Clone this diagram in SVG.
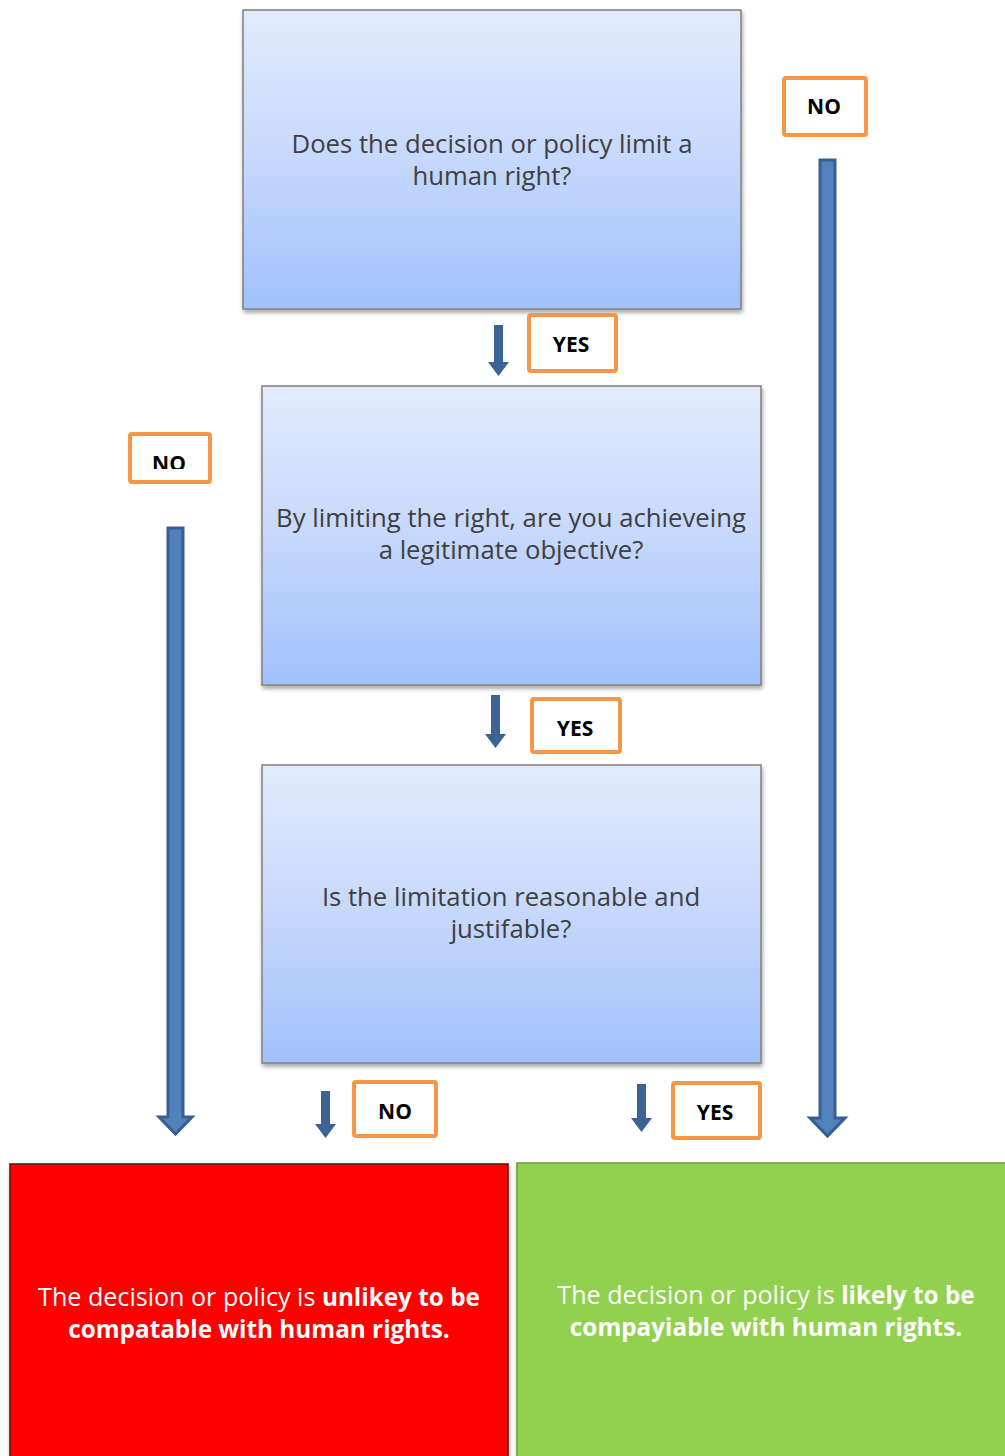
<svg xmlns="http://www.w3.org/2000/svg" width="1005" height="1456" viewBox="0 0 1005 1456">
<defs>
<linearGradient id="blue" x1="0" y1="0" x2="0" y2="1">
<stop offset="0" stop-color="#e2ebfd"/>
<stop offset="0.5" stop-color="#c6d8fc"/>
<stop offset="1" stop-color="#a1c1fb"/>
</linearGradient>
<filter id="sh" x="-5%" y="-5%" width="110%" height="110%">
<feDropShadow dx="1" dy="3" stdDeviation="2" flood-color="#000" flood-opacity="0.35"/>
</filter>
<clipPath id="clipNo"><rect x="129" y="433" width="82" height="36"/></clipPath>
</defs>
<style>
.q{fill:url(#blue);stroke:#808080;stroke-width:1.5;filter:url(#sh)}
.qt{font-family:"Open Sans","Liberation Sans",sans-serif;font-size:25.7px;fill:#404040;text-anchor:middle}
.lab{fill:#fff;stroke:#f79646;stroke-width:4}
.lt{font-family:"Open Sans","Liberation Sans",sans-serif;font-size:21px;font-weight:bold;fill:#000;text-anchor:middle}
.rt{font-family:"Open Sans","Liberation Sans",sans-serif;font-size:25.1px;fill:#fff;text-anchor:middle}
.rb{font-size:24.3px;font-weight:bold}
.sa{fill:#3b6396}
.la{fill:#4f81bd;stroke:#3a5f8f;stroke-width:3}
</style>
<g id="connectors">
<path class="sa" d="M494,325 H503 V362 H509 L498.5,376 L488,362 H494 Z"/>
<path class="sa" d="M491,695 H500 V734 H506 L495.5,748 L485,734 H491 Z"/>
<path class="sa" d="M321,1091 H330 V1124 H336 L325.5,1138 L315,1124 H321 Z"/>
<path class="sa" d="M637,1084 H646 V1118 H652 L641.5,1132 L631,1118 H637 Z"/>
<path class="la" d="M168,528 H183 V1117 H192 L175.5,1134 L159,1117 H168 Z"/>
<path class="la" d="M820,160 H835 V1118 H845 L827.5,1136 L810,1118 H820 Z"/>
</g>
<g id="q1">
<rect class="q" x="243" y="10" width="498" height="299"/>
<text class="qt" x="492" y="153">Does the decision or policy limit a</text>
<text class="qt" x="492" y="185">human right?</text>
</g>
<g id="q2">
<rect class="q" x="262" y="386" width="499" height="299"/>
<text class="qt" x="511" y="527">By limiting the right, are you achieveing</text>
<text class="qt" x="511" y="559">a legitimate objective?</text>
</g>
<g id="q3">
<rect class="q" x="262" y="765" width="499" height="298"/>
<text class="qt" x="511" y="906">Is the limitation reasonable and</text>
<text class="qt" x="511" y="938">justifable?</text>
</g>
<g id="red">
<rect x="10" y="1164" width="498" height="300" fill="#ff0000" stroke="#5a1010" stroke-width="1.5" filter="url(#sh)"/>
<text class="rt" x="259" y="1306">The decision or policy is <tspan class="rb">unlikey to be</tspan></text>
<text class="rt rb" x="259" y="1338">compatable with human rights.</text>
</g>
<g id="green">
<rect x="517" y="1163" width="500" height="300" fill="#92d050" stroke="#6a9a3a" stroke-width="1.5" filter="url(#sh)"/>
<text class="rt" x="766" y="1304">The decision or policy is <tspan class="rb">likely to be</tspan></text>
<text class="rt rb" x="766" y="1336">compayiable with human rights.</text>
</g>
<g id="no1">
<rect class="lab" x="784" y="78" width="82" height="57" rx="2"/>
<text class="lt" x="824" y="114">NO</text>
</g>
<g id="yes1">
<rect class="lab" x="529" y="315" width="87" height="56" rx="2"/>
<text class="lt" x="571" y="352">YES</text>
</g>
<g id="no2">
<rect class="lab" x="130" y="434" width="80" height="48" rx="2"/>
<text class="lt" x="169" y="471" clip-path="url(#clipNo)">NO</text>
</g>
<g id="yes2">
<rect class="lab" x="532" y="699" width="88" height="53" rx="2"/>
<text class="lt" x="575" y="736">YES</text>
</g>
<g id="no3">
<rect class="lab" x="354" y="1082" width="82" height="54" rx="2"/>
<text class="lt" x="395" y="1119">NO</text>
</g>
<g id="yes3">
<rect class="lab" x="673" y="1083" width="87" height="55" rx="2"/>
<text class="lt" x="715" y="1120">YES</text>
</g>
</svg>
